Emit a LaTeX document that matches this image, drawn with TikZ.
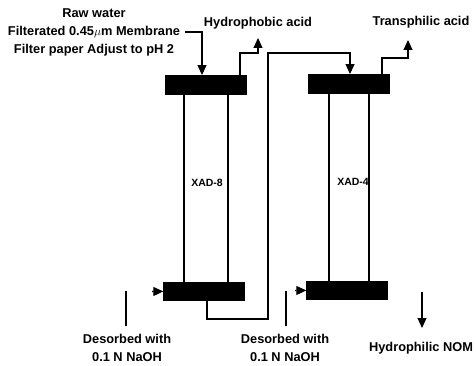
\documentclass[tikz,border=0pt]{standalone}
\usepackage{fontspec}
\setmainfont{Liberation Sans}
\usepackage{xcolor}
\usetikzlibrary{arrows.meta, positioning, calc}

\begin{document}
\begin{tikzpicture}[
		x=1pt, y=-1pt,
		every node/.style={font=\fontsize{12.8}{18}\selectfont\bfseries, inner sep=0pt},
		capbox/.style={draw=black, fill=black, minimum width=81pt, minimum height=18.5pt},
		wall/.style={line width=1.1pt},
		arr/.style={-{Triangle[length=10pt, width=9pt]}, line width=1.1pt},
		inlet/.style={-{Triangle[length=10pt, width=9pt]}, line width=1.1pt},
		pipe/.style={line width=1.1pt},
		lbl/.style={align=center},
		collabel/.style={font=\fontsize{10.5}{12}\selectfont\bfseries},
		]
		\useasboundingbox (0,0) rectangle (476,366);

		% Caps of the columns
		\node[capbox] (capA) at (206,84.5) {};
		\node[capbox, below=188pt of capA, xshift=-2pt] (capB) {};
		\node[capbox] (capC) at (349,83.5) {};
		\node[capbox, below=188pt of capC, xshift=-2pt] (capD) {};

		% Column labels
		\node[collabel] (xadA) at (207,183) {XAD-8};
		\node[collabel] (xadB) at (353,182) {XAD-4};

		% Text labels
		\node[lbl] (feed) at (94,32) {Raw water\\Filterated 0.45$\mu$m Membrane\\Filter paper Adjust to pH 2};
		\node (hydroacid) at (258,23) {Hydrophobic acid};
		\node (transacid) at (421,22) {Transphilic acid};
		\node[lbl] (desA) at (127,348) {Desorbed with\\0.1 N NaOH};
		\node[lbl] (desB) at (285,348) {Desorbed with\\0.1 N NaOH};
		\node (nom) at (421,348) {Hydrophilic NOM};

		% Column walls
		\draw[wall] (184,93) -- (184,282);
		\draw[wall] (228,93) -- (228,282);
		\draw[wall] (329,92) -- (329,281);
		\draw[wall] (369,92) -- (369,281);

		% Free ends
		\coordinate (feedout) at (185,32);
		\coordinate (hydrotip) at (258,38);
		\coordinate (transtip) at (408,40);
		\coordinate (inA) at (152,291.5);
		\coordinate (inB) at (295,290.5);
		\coordinate (lineAtop) at (126,291);
		\coordinate (lineAend) at (126,326);
		\coordinate (lineBtop) at (286,291);
		\coordinate (lineBend) at (286,326);
		\coordinate (nomtop) at (422,292);
		\coordinate (nomtip) at (422,328);

		% Arrows
		\draw[arr] (feedout) -| (capA.north -| 202,0);
		\draw[arr] (capA.north -| 240,0) |- (258,53) -- (hydrotip);
		\draw[arr] (capB.south -| 207,0) |- (268,319) |- (350,53) -- (capC.north -| 350,0);
		\draw[arr] (capC.north -| 382,0) |- (408,58) -- (transtip);

		% Desorption lines
		\draw[inlet] (inA) -- (capB.west);
		\draw[inlet] (inB) -- (capD.west);
		\draw[pipe] (lineAtop) -- (lineAend);
		\draw[pipe] (lineBtop) -- (lineBend);
		\draw[arr] (nomtop) -- (nomtip);
	\end{tikzpicture}
\end{document}
